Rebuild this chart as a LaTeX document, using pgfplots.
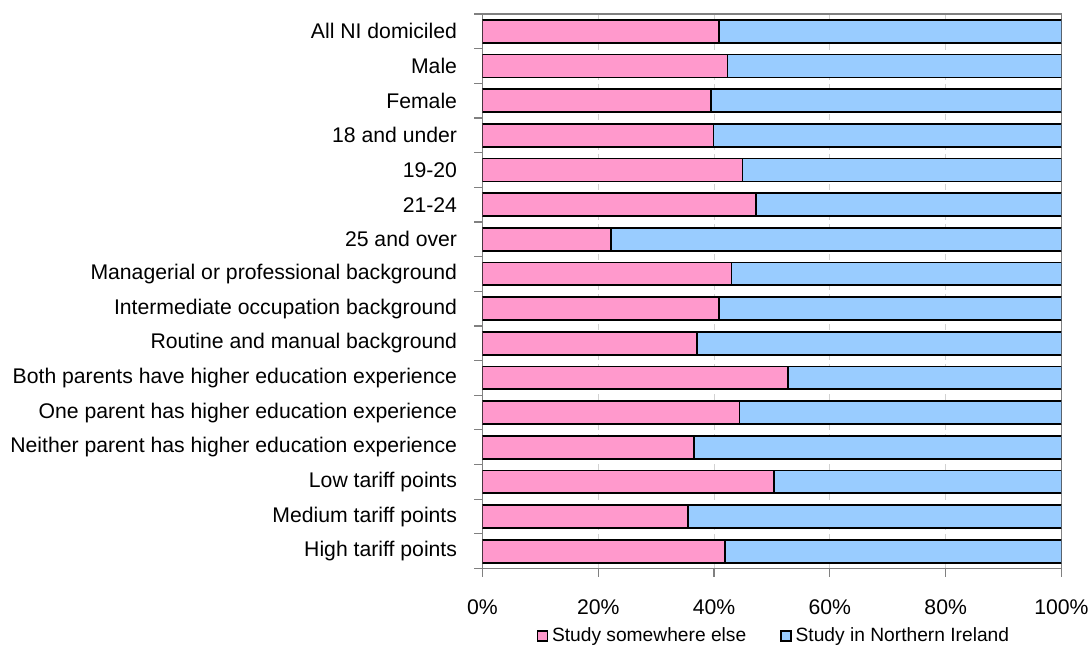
\documentclass[border=0pt]{standalone}
\usepackage{pgfplots}
\usepackage{pgfplotstable}
\pgfplotsset{compat=1.18}
\usepackage{fontspec}
\setmainfont{Liberation Sans}

\definecolor{pinkbar}{HTML}{FF99CC}
\definecolor{bluebar}{HTML}{99CCFF}
\definecolor{axisgray}{HTML}{808080}

% shares in %: study somewhere else / study in Northern Ireland
\pgfplotstableread{
idx else ni
0  40.9 59.1
1  42.3 57.7
2  39.5 60.5
3  39.9 60.1
4  44.9 55.1
5  47.2 52.8
6  22.2 77.8
7  43.0 57.0
8  40.9 59.1
9  37.0 63.0
10 52.7 47.3
11 44.4 55.6
12 36.5 63.5
13 50.3 49.7
14 35.5 64.5
15 41.9 58.1
}\shares

\begin{document}
\fontsize{10.6}{12}\selectfont
\begin{tikzpicture}
\begin{axis}[
    name=ax,
    scale only axis,
    width=289.5pt, height=277.25pt,
    xbar stacked,
    bar width=0.66,
    y dir=reverse,
    xmin=0, xmax=100,
    ymin=-0.5, ymax=15.5,
    xtick={0,20,40,60,80,100},
    xticklabels={0\%,20\%,40\%,60\%,80\%,100\%},
    xmajorgrids=true,
    grid style={densely dashed, gray!35},
    ytick={0,...,15},
    yticklabels={All NI domiciled, Male, Female, 18 and under, 19-20, 21-24,
        25 and over, Managerial or professional background,
        Intermediate occupation background, Routine and manual background,
        Both parents have higher education experience,
        One parent has higher education experience,
        Neither parent has higher education experience,
        Low tariff points, Medium tariff points, High tariff points},
    minor ytick={-0.5,0.5,...,15.5},
    xtick pos=bottom,
    ytick pos=left,
    major tick length=4pt,
    minor tick length=4pt,
    every major y tick/.append style={draw=none},
    tick align=outside,
    tick style={axisgray, line width=0.6pt},
    axis line style={axisgray, line width=0.6pt},
    xticklabel style={yshift=-8pt, font=\fontsize{10.6}{12}\selectfont},
    yticklabel style={xshift=-5pt, font=\fontsize{10.6}{12}\selectfont},
    legend columns=2,
    legend style={
        draw=none, fill=none,
        at={(0.505,-0.1217)}, anchor=center,
        font=\fontsize{9.6}{11}\selectfont,
        /tikz/every even column/.append style={column sep=15pt},
        inner sep=0pt,
    },
    legend cell align=left,
    legend image code/.code={
        \draw[#1, line width=0.7pt] (0pt,-2.5pt) rectangle (5pt,2.5pt);
    },
]
\addplot[fill=pinkbar, draw=black, line width=0.9pt] table[x=else, y=idx] {\shares};
\addlegendentry{Study somewhere else}
\addplot[fill=bluebar, draw=black, line width=0.9pt] table[x=ni, y=idx] {\shares};
\addlegendentry{Study in Northern Ireland}
\end{axis}
\pgfresetboundingbox
\path[use as bounding box] ([shift={(-241.25pt,-38.25pt)}]ax.south west)
    rectangle ([shift={(303.25pt,284.25pt)}]ax.south west);
\end{tikzpicture}
\end{document}
